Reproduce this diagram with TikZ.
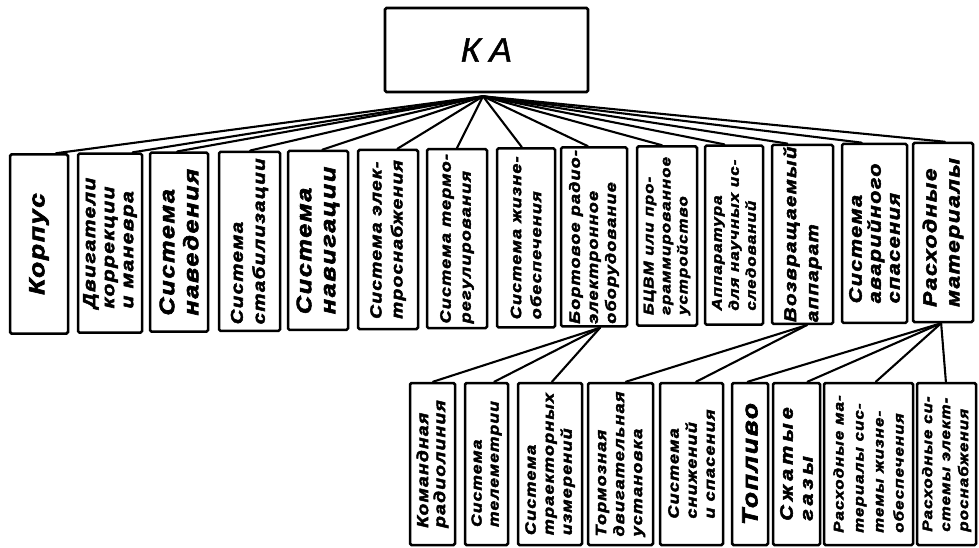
\documentclass[tikz,border=0pt]{standalone}
\usepackage{fontspec}
\setmainfont{Liberation Sans}[FakeStretch=1.2,LetterSpace=8,BoldItalicFeatures={FakeBold=3}]
\newfontfamily\kafont{Liberation Sans}[LetterSpace=25,ItalicFeatures={FakeBold=1.5}]
\usetikzlibrary{calc}
\begin{document}
\begin{tikzpicture}[x=1pt,y=-1pt,
  box/.style={draw,line width=2.5pt,rounded corners=1.5pt,inner sep=0pt},
  lbl/.style 2 args={rotate=90,align=left,inner sep=0pt,font=\bfseries\itshape\fontsize{#1}{#2}\selectfont},
  conn/.style={line width=2.1pt,line cap=round}]
\useasboundingbox (0,0) rectangle (979,548);
% root
\node[box,line width=2.6pt,minimum width=203pt,minimum height=84pt,
  font=\kafont\itshape\fontsize{34}{36}\selectfont] (KA) at (486.5,50) {КА};
\coordinate (hub) at ($(KA.south)+(-3.5,3)$);
% top row boxes
\foreach \n/\cx/\cy/\w in {1/39/244/58, 2/110/243.1/64, 3/179/242.2/58, 4/249.5/241.3/61,
  5/318/240.4/60, 6/388/239.5/60, 7/457/238.7/60, 8/526/237.8/58, 9/594/236.9/66,
  10/667/236/60, 11/734/235.1/58, 12/802.5/234.3/61, 13/874.5/233.4/65, 14/943/232.5/60}
  \node[box,minimum width=\w pt,minimum height=179pt] (t\n) at (\cx,\cy) {};
% bottom row boxes
\foreach \n/\cx/\w in {1/432.5/45, 2/486.5/43, 3/550/64, 4/620.5/65, 5/691.5/63,
  6/750/36, 7/796.5/47, 8/868.5/89, 9/946.5/59}
  \node[box,minimum width=\w pt,minimum height=162pt] (b\n) at (\cx,464) {};
% labels top
\node[lbl={22}{24}] (l1) at (t1) {Корпус};
\node[lbl={17.5}{19}] (l2) at (t2) {Двигатели\\коррекции\\и маневра};
\node[lbl={21}{24}] (l3) at (t3) {Система\\наведения};
\node[lbl={17}{22}] (l4) at (t4) {Система\\стабилизации};
\node[lbl={21}{24}] (l5) at (t5) {Система\\навигации};
\node[lbl={16}{21}] (l6) at (t6) {Система элек-\\троснабжения};
\node[lbl={15}{20}] (l7) at (t7) {Система термо-\\регулирования};
\node[lbl={15}{20}] (l8) at (t8) {Система жизне-\\обеспечения};
\node[lbl={15}{18}] (l9) at (t9) {Бортовое радио-\\электронное\\оборудование};
\node[lbl={14}{17}] (l10) at (t10) {БЦВМ или про-\\граммированное\\устройство};
\node[lbl={14}{17}] (l11) at (t11) {Аппаратура\\для научных ис-\\следований};
\node[lbl={17}{22}] (l12) at (t12) {Возвращаемый\\аппарат};
\node[lbl={18}{19}] (l13) at (t13) {Система\\аварийного\\спасения};
\node[lbl={19}{23}] (l14) at (t14) {Расходные\\материалы};
% labels bottom
\node[lbl={16}{17}] (m1) at (b1) {Командная\\радиолиния};
\node[lbl={14.5}{17}] (m2) at (b2) {Система\\телеметрии};
\node[lbl={15}{18}] (m3) at (b3) {Система\\траекторных\\измерений};
\node[lbl={15}{18}] (m4) at (b4) {Тормозная\\двигательная\\установка};
\node[lbl={15}{18}] (m5) at (b5) {Система\\снижений\\и спасения};
\node[lbl={22}{24}] (m6) at (b6) {Топливо};
\node[lbl={18}{20},font=\bfseries\itshape\fontsize{18}{20}\selectfont\addfontfeature{LetterSpace=22}] (m7) at (b7) {Сжатые\\газы};
\node[lbl={14}{20}] (m8) at (b8) {Расходные ма-\\териалы сис-\\темы жизне-\\обеспечения};
\node[lbl={14}{18}] (m9) at (b9) {Расходные си-\\стемы элект-\\роснабжения};
% connectors from root
\foreach \n/\f in {1/0.78, 2/0.84, 3/0.47, 4/0.51, 5/0.57, 6/0.65, 7/0.5,
  8/0.43, 9/0.41, 10/0.42, 11/0.34, 12/0.26, 13/0.31, 14/0.53}
  \draw[conn] (hub) -- ($(t\n.north west)!\f!(t\n.north east)$);
% second level
\coordinate (s9) at ($(t9.south west)!0.59!(t9.south east)$);
\coordinate (s12) at ($(t12.south west)!0.57!(t12.south east)$);
\coordinate (s14) at ($(t14.south west)!0.47!(t14.south east)$);
\foreach \p/\n/\f in {9/1/0.51, 9/2/0.67, 9/3/0.53, 12/4/0.58, 12/5/0.57,
  14/6/0.44, 14/7/0.72, 14/8/0.58, 14/9/0.49}
  \draw[conn] (s\p) -- ($(b\n.north west)!\f!(b\n.north east)$);
\end{tikzpicture}
\end{document}
